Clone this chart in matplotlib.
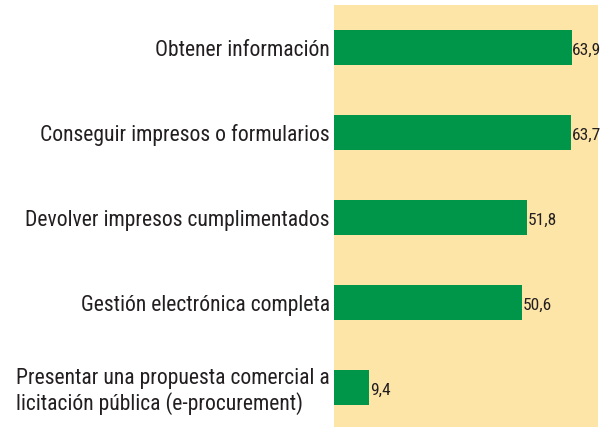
import matplotlib.pyplot as plt

plt.rcParams['font.family'] = ['Roboto Condensed', 'DejaVu Sans']

categorias = [
    "Obtener información",
    "Conseguir impresos o formularios",
    "Devolver impresos cumplimentados",
    "Gestión electrónica completa",
    "Presentar una propuesta comercial a\nlicitación pública (e-procurement)",
]
valores = [63.9, 63.7, 51.8, 50.6, 9.4]
etiquetas = ["63,9", "63,7", "51,8", "50,6", "9,4"]

verde = '#00964A'
fondo = '#FDE5A8'
texto = '#231F20'

fig = plt.figure(figsize=(6.09, 4.28), dpi=100)
ax = fig.add_axes([334 / 609, 1 - 427 / 428, (598 - 334) / 609, (427 - 5) / 428])
ax.set_facecolor(fondo)

pos = list(range(len(categorias)))
ax.barh(pos, valores, height=0.41, color=verde)
for p, v, t in zip(pos, valores, etiquetas):
    ax.text(v + 0.2, p + 0.03, t, va='center', ha='left', fontsize=12.5, color=texto)

ax.set_xlim(0, 71)
ax.set_ylim(4.46, -0.5)
ax.set_yticks(pos)
ax.set_yticklabels(categorias, fontsize=15.6, color=texto, linespacing=1.15)
for lbl in ax.get_yticklabels():
    lbl.set_multialignment('left')
ax.tick_params(axis='y', length=0, pad=3)
ax.set_xticks([])
for s in ax.spines.values():
    s.set_visible(False)

fig.savefig('out.png', dpi=100)
